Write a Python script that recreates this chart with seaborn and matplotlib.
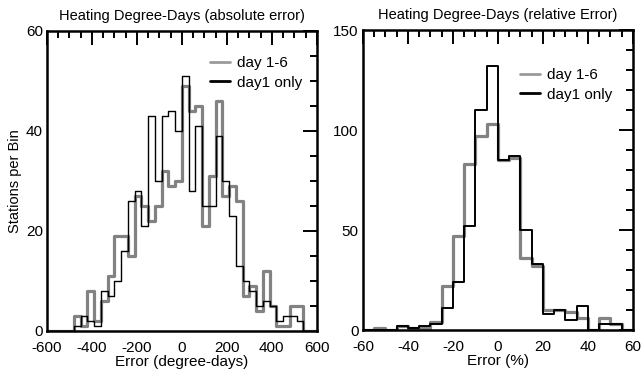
"""
Histogramas de error en grados-día de calefacción (absoluto y relativo).
Recrea la figura de dos paneles con seaborn y guarda out.png.
"""

import numpy as np
import pandas as pd
import matplotlib
matplotlib.use("Agg")
import matplotlib.pyplot as plt
from matplotlib.ticker import MultipleLocator
import seaborn as sns

# --- datos: conteos por bin ---
# panel izquierdo: bins de 30 grados-día entre -600 y 600
bordes_abs = list(range(-600, 601, 30))
conteo_abs_dias16 = [0, 0, 0, 0, 3, 1, 8, 2, 6, 11,
                     19, 19, 15, 27, 25, 22, 25, 32, 29, 30,
                     49, 44, 45, 21, 31, 46, 27, 29, 26, 7,
                     9, 4, 12, 5, 1, 1, 5, 5, 0, 0]
conteo_abs_dia1 = [0, 0, 0, 0, 1, 3, 2, 1, 8, 7,
                   10, 16, 26, 28, 21, 43, 30, 43, 44, 40,
                   51, 28, 41, 25, 25, 39, 30, 23, 13, 10,
                   8, 5, 6, 5, 2, 3, 3, 2, 0, 0]

# panel derecho: bins de 5 % entre -60 y 60
bordes_rel = list(range(-60, 61, 5))
conteo_rel_dias16 = [0, 1, 0, 2, 1, 1, 4, 22, 47, 83, 97, 103,
                     85, 86, 36, 32, 10, 10, 9, 6, 0, 6, 3, 0]
conteo_rel_dia1 = [0, 0, 0, 2, 1, 2, 3, 11, 24, 52, 110, 132,
                   85, 87, 50, 33, 8, 10, 5, 12, 0, 3, 3, 0]

ETIQUETAS = ["day 1-6", "day1 only"]
COLOR_GRIS = "#828282"

sns.set_style("white")
plt.rcParams["font.family"] = ["Liberation Sans", "DejaVu Sans"]
plt.rcParams["font.size"] = 11
plt.rcParams["axes.unicode_minus"] = False  # guion simple como en el original
for clave in ("text.color", "axes.labelcolor", "xtick.color", "ytick.color"):
    plt.rcParams[clave] = "black"


def armar_tabla(bordes, conteos):
    b = np.asarray(bordes, dtype=float)
    centros = (b[:-1] + b[1:]) / 2
    return pd.DataFrame({"error": centros, "conteo": conteos})


def dibujar_panel(ax, bordes, serie_gris, serie_negra, lw_negra):
    sns.histplot(data=armar_tabla(bordes, serie_gris), x="error", weights="conteo",
                 bins=bordes, element="step", fill=False, color=COLOR_GRIS,
                 linewidth=2.3, label=ETIQUETAS[0], ax=ax)
    sns.histplot(data=armar_tabla(bordes, serie_negra), x="error", weights="conteo",
                 bins=bordes, element="step", fill=False, color="black",
                 linewidth=lw_negra, label=ETIQUETAS[1], ax=ax)


def estilo_ejes(ax, xmaj, xmin, ymaj, ymin):
    ax.xaxis.set_major_locator(MultipleLocator(xmaj))
    ax.xaxis.set_minor_locator(MultipleLocator(xmin))
    ax.yaxis.set_major_locator(MultipleLocator(ymaj))
    ax.yaxis.set_minor_locator(MultipleLocator(ymin))
    ax.tick_params(which="both", direction="in", top=True, right=True,
                   width=1.4, color="black", labelsize=11)
    ax.tick_params(which="major", length=10)
    ax.tick_params(which="minor", length=5)
    ax.tick_params(axis="x", pad=7)
    ax.tick_params(axis="y", pad=3)
    for lado in ax.spines.values():
        lado.set_linewidth(1.8)
        lado.set_color("black")


def poner_leyenda(ax, ancla):
    leyenda = ax.legend(loc="upper left", bbox_to_anchor=ancla, frameon=False,
                        borderpad=0, borderaxespad=0, handlelength=1.3,
                        handletextpad=0.45, labelspacing=0.35, fontsize=11)
    for linea in leyenda.get_lines():
        linea.set_linewidth(2.0)
    leyenda.get_lines()[0].set_color("#9a9a9a")


fig = plt.figure(figsize=(6.41, 3.71), dpi=100)
ax1 = fig.add_axes([0.0733, 0.108, 0.421, 0.809])
ax2 = fig.add_axes([0.5663, 0.110, 0.421, 0.809])

# panel absoluto
dibujar_panel(ax1, bordes_abs, conteo_abs_dias16, conteo_abs_dia1, 1.0)
ax1.set_xlim(-600, 600)
ax1.set_ylim(0, 60)
estilo_ejes(ax1, 200, 50, 20, 5)
ax1.set_title("Heating Degree-Days (absolute error)", fontsize=10.5, pad=8)
ax1.set_xlabel("Error (degree-days)", fontsize=11, labelpad=0)
ax1.set_ylabel("Stations per Bin", fontsize=10.5, labelpad=3)
poner_leyenda(ax1, (0.604, 0.915))

# panel relativo
dibujar_panel(ax2, bordes_rel, conteo_rel_dias16, conteo_rel_dia1, 1.4)
ax2.set_xlim(-60, 60)
ax2.set_ylim(0, 150)
estilo_ejes(ax2, 20, 5, 50, 10)
ax2.set_title("Heating Degree-Days (relative Error)", fontsize=10.5, pad=8)
ax2.set_xlabel("Error (%)", fontsize=11, labelpad=0)
ax2.set_ylabel("")
poner_leyenda(ax2, (0.581, 0.873))

fig.savefig("out.png", dpi=100)
plt.close(fig)
